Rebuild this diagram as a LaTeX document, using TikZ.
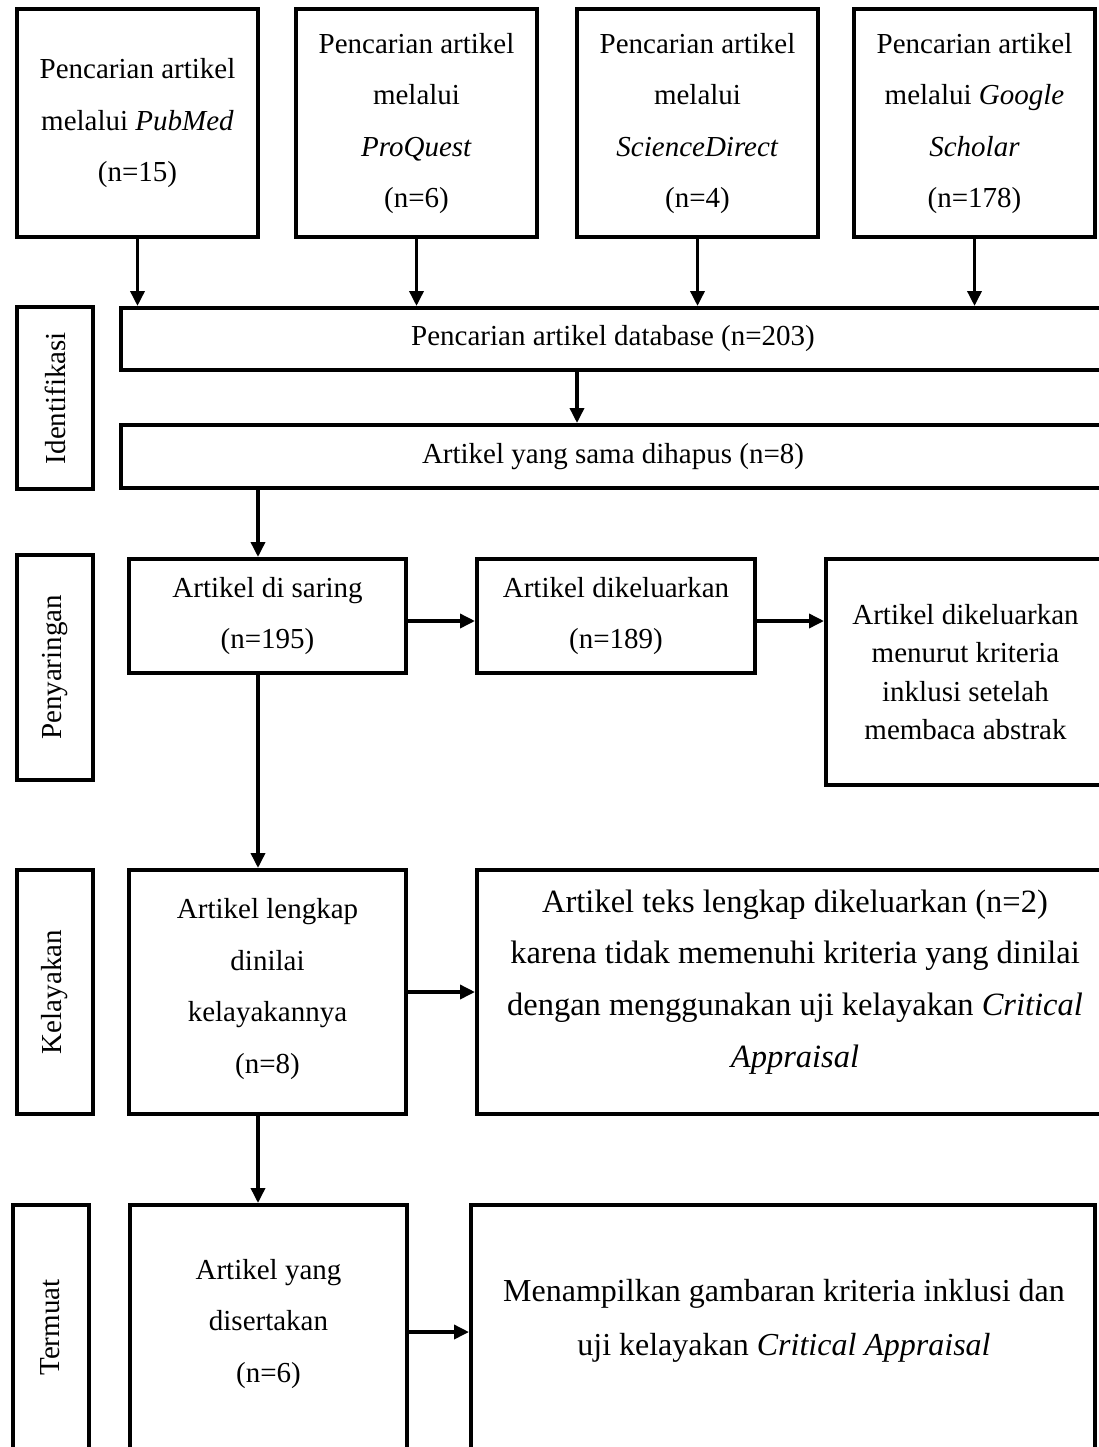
\documentclass[tikz,border=0pt]{standalone}
\usepackage{fontspec}
\setmainfont{Liberation Serif}
\usetikzlibrary{arrows.meta}
\begin{document}
\begin{tikzpicture}[x=1pt,y=-1pt,
  box/.style={draw,line width=4pt,inner sep=0pt,align=center,font=\fontsize{29}{51.5}\selectfont},
  tightbox/.style={box,font=\fontsize{29}{38.5}\selectfont},
  bigtext/.style={inner sep=0pt,align=center},
  phase/.style={draw,line width=4pt,inner sep=0pt,rotate=90,font=\fontsize{29}{35}\selectfont},
  arr/.style={line width=3.5pt,-{Triangle[length=15pt,width=14pt]}}]
\useasboundingbox (0,0) rectangle (1099,1447);
\fill[white] (0,0) rectangle (1099,1447);
\clip (0,0) rectangle (1099,1447);

% source boxes
\node[box,minimum width=241,minimum height=228] (pub) at (137.5,123.5) {Pencarian artikel\\melalui \textit{PubMed}\\(n=15)};
\node[box,minimum width=241,minimum height=228] (proq) at (416.5,123.5) {Pencarian artikel\\melalui\\\textit{ProQuest}\\(n=6)};
\node[box,minimum width=241,minimum height=228] (sci) at (697.5,123.5) {Pencarian artikel\\melalui\\\textit{ScienceDirect}\\(n=4)};
\node[box,minimum width=241,minimum height=228] (goo) at (974.5,123.5) {Pencarian artikel\\melalui \textit{Google}\\\textit{Scholar}\\(n=178)};

% phase labels
\node[phase,minimum width=182,minimum height=76] (ident) at (55,398) {Identifikasi};
\node[phase,minimum width=225,minimum height=76] (peny) at (55,667.5) {Penyaringan};
\node[phase,minimum width=244,minimum height=76] (kelay) at (55,992) {Kelayakan};
\node[phase,minimum width=245,minimum height=76] (term) at (50.5,1327.5) {Termuat};

% identification
\node[box,minimum width=984,minimum height=62] (db) at (613,339) {Pencarian artikel database (n=203)};
\node[box,minimum width=984,minimum height=63] (dup) at (613,456.5) {Artikel yang sama dihapus (n=8)};

% screening
\node[box,minimum width=277,minimum height=114] (saring) at (267.5,616) {Artikel di saring\\(n=195)};
\node[box,minimum width=278,minimum height=114] (kel1) at (616,616) {Artikel dikeluarkan\\(n=189)};
\node[tightbox,minimum width=279,minimum height=226] (kel2) at (965.5,672) {Artikel dikeluarkan\\menurut kriteria\\inklusi setelah\\membaca abstrak};

% eligibility
\node[box,minimum width=277,minimum height=244] (lengkap) at (267.5,992) {};
\node[bigtext,font=\fontsize{29}{51.5}\selectfont] (lengkaptxt) at (267.5,989) {Artikel lengkap\\dinilai\\kelayakannya\\(n=8)};
\node[box,minimum width=633,minimum height=244] (teks) at (793.5,992) {};
\node[bigtext,font=\fontsize{32.5}{51.7}\selectfont] (tekstxt) at (795,982) {Artikel teks lengkap dikeluarkan (n=2)\\karena tidak memenuhi kriteria yang dinilai\\dengan menggunakan uji kelayakan \textit{Critical}\\\textit{Appraisal}};

% included
\node[box,minimum width=277,minimum height=245] (yang) at (268.5,1327.5) {};
\node[bigtext,font=\fontsize{29}{51.5}\selectfont] (yangtxt) at (268.5,1324) {Artikel yang\\disertakan\\(n=6)};
\node[box,minimum width=624,minimum height=245] (men) at (783,1327.5) {};
\node[bigtext,font=\fontsize{32}{54}\selectfont] (mentxt) at (784,1321) {Menampilkan gambaran kriteria inklusi dan\\uji kelayakan \textit{Critical Appraisal}};

% helper coordinates
\coordinate (cx) at (577,0);
\coordinate (lx) at (258,0);
\coordinate (ya) at (0,621);
\coordinate (yb) at (0,1332);
\coordinate (yc) at (0,992);

% connectors
\draw[arr] (pub.south) -- (pub.south |- db.north);
\draw[arr] (proq.south) -- (proq.south |- db.north);
\draw[arr] (sci.south) -- (sci.south |- db.north);
\draw[arr] (goo.south) -- (goo.south |- db.north);
\draw[arr] (cx |- db.south) -- (cx |- dup.north);
\draw[arr] (lx |- dup.south) -- (lx |- saring.north);
\draw[arr] (lx |- saring.south) -- (lx |- lengkap.north);
\draw[arr] (lx |- lengkap.south) -- (lx |- yang.north);
\draw[arr] (saring.east |- ya) -- (kel1.west |- ya);
\draw[arr] (kel1.east |- ya) -- (kel2.west |- ya);
\draw[arr] (lengkap.east |- yc) -- (teks.west |- yc);
\draw[arr] (yang.east |- yb) -- (men.west |- yb);
\end{tikzpicture}
\end{document}
